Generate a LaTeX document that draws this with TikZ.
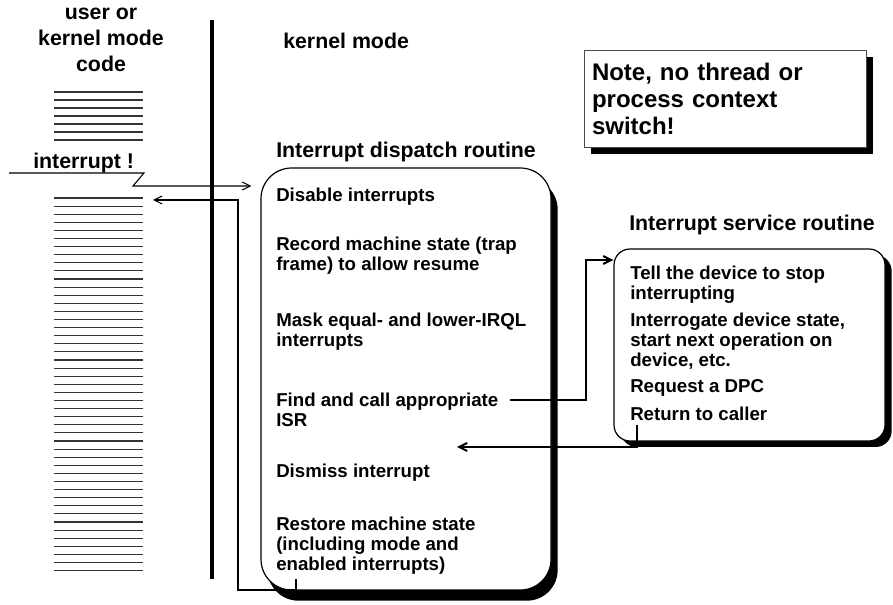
\documentclass[tikz,border=0pt]{standalone}
\usepackage{fontspec}
\setmainfont{Liberation Sans}
\usetikzlibrary{positioning,shadows,arrows.meta,calc}
\def\codestep{8.1}

\begin{document}
\begin{tikzpicture}[x=0.75pt, y=-0.75pt, >={Straight Barb[length=6pt,width=6pt]}]
        \tikzstyle{txt}=[inner sep=0pt, anchor=west, align=left, font=\fontsize{14}{15}\selectfont\bfseries];
        \tikzstyle{head}=[inner sep=0pt, anchor=west, align=center, font=\fontsize{16}{19.5}\selectfont\bfseries];
        \tikzstyle{routine}=[draw=black, line width=0.9pt, fill=white, inner sep=0pt];
        \tikzstyle{codeline}=[draw=black!80, line width=0.8pt];
        \tikzstyle{thin}=[draw=black, line width=0.8pt];
        \tikzstyle{thick}=[draw=black, line width=1.5pt];

        \useasboundingbox (0,0) rectangle (893,605);

        % left side: interrupted code
        \node[head, anchor=center] (code) at (101,40) {user or\\kernel mode\\code};
        \foreach \y in {92,100,...,140}
            \draw[codeline] (54,\y) -- (143,\y);
        \foreach \y in {198,206.1,...,572}
            \draw[codeline] (54,\y) -- (143,\y);
        \node[head] (irq) at (33,163) {interrupt !};
        % user / kernel boundary
        \draw[line width=3pt] (212,20) -- (212,579);
        \node[head] (kmode) at (283,41) {kernel mode};

        % note
        \node[draw=black!70, line width=0.6pt, fill=white, inner xsep=6pt, text width=199.5pt,
              minimum height=72.75pt, align=left, font=\fontsize{18}{20.25}\selectfont\bfseries,
              drop shadow={shadow xshift=5.5pt, shadow yshift=-5.5pt, fill=black, opacity=1}]
              (note) at (725,98.5) {Note, no thread or\\process context\\switch!};

        % dispatch routine
        \node[head] (disptitle) at (276,152) {Interrupt dispatch routine};
        \node[routine, rounded corners=23pt, minimum width=217.5pt, minimum height=316.5pt,
              drop shadow={shadow xshift=5pt, shadow yshift=-8pt, fill=black, opacity=1}]
              (disp) at (406,379) {};
        \node[txt] (d1) at (276,197) {Disable interrupts};
        \node[txt] (d2) at (276,256) {Record machine state (trap\\frame) to allow resume};
        \node[txt] (d3) at (276,332) {Mask equal- and lower-IRQL\\interrupts};
        \node[txt] (d4) at (276,410) {Find and call appropriate\\ISR};
        \node[txt] (d5) at (276,473) {Dismiss interrupt};
        \node[txt] (d6) at (276,546) {Restore machine state\\(including mode and\\enabled interrupts)};

        % service routine
        \node[head] (isrtitle) at (629,225) {Interrupt service routine};
        \node[routine, rounded corners=12pt, minimum width=203.25pt, minimum height=144pt,
              drop shadow={shadow xshift=5pt, shadow yshift=-4.5pt, fill=black, opacity=1}]
              (isr) at (749.5,345) {};
        \node[txt] (s1) at (630,285) {Tell the device to stop\\interrupting};
        \node[txt] (s2) at (630,341) {Interrogate device state,\\start next operation on\\device, etc.};
        \node[txt] (s3) at (630,388) {Request a DPC};
        \node[txt] (s4) at (630,414) {Return to caller};

        % interrupt comes in
        \coordinate (irqa) at (144,173);
        \coordinate (irqb) at (133,186);
        \draw[thin, ->, shorten >=6.75pt] (9,173) -- (irqa) -- (irqb) -- (irqb -| disp.west);
        % back to the interrupted code
        \coordinate (resume) at (296,579);
        \coordinate (rail) at (238,200);
        \coordinate (codeback) at (153,200);
        \draw[thin, ->] (resume) -- ++(0,11) -| (rail) -- (codeback);
        % call the ISR
        \coordinate (callout) at (510,400);
        \coordinate (callup) at (586,260);
        \draw[thick, ->] (callout) -| (callup) -- (callup -| isr.west);
        % return from the ISR
        \coordinate (retcall) at (637,425);
        \coordinate (retin) at (457,447);
        \draw[thick, ->] (retcall) |- (retin);
    \end{tikzpicture}
\end{document}
